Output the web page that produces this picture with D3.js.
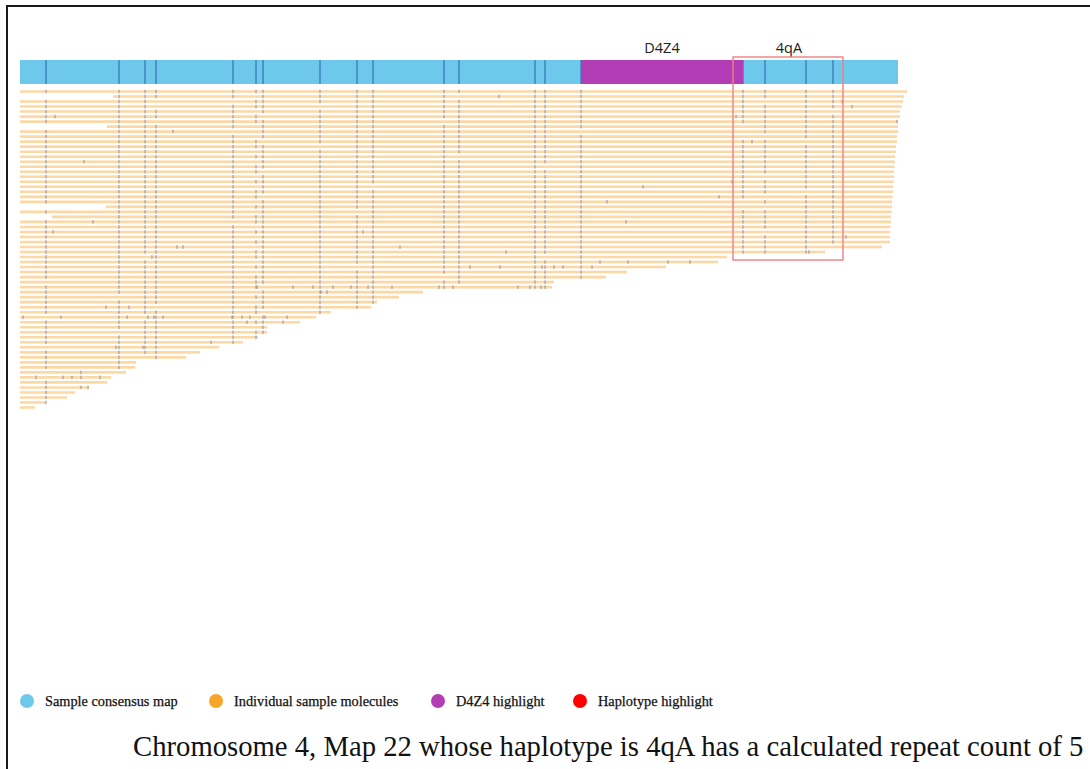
<!DOCTYPE html>
<html>
<head>
<meta charset="utf-8">
<script src="https://cdn.jsdelivr.net/npm/d3@7/dist/d3.min.js"></script>
<style>
  html, body { margin: 0; padding: 0; background: #ffffff; }
  svg { display: block; }
</style>
</head>
<body>
<svg id="chart" width="1090" height="769"></svg>
<script>
// ---- Consensus map (positions in kb) ----
const mapLengthKb = 175.6;
const consensusSites = [5.2, 19.8, 25.0, 27.2, 42.6, 47.2, 48.6, 60.0, 67.4, 70.6,
                        84.8, 87.8, 103.0, 105.0, 112.2, 144.6, 149.0, 157.2, 162.6];
const d4z4Region = [112.2, 144.6];
const haplotypeRegion = [142.6, 164.6];
const regionLabels = ["D4Z4", "4qA"];
const regionLabelPos = [128.4, 153.8];

// ---- Individual molecules (one per row) ----
const moleculeStart = [
  0, 18.6, 0, 0, 0, 0, 0, 17.4, 0, 0,
  0, 0, 0, 0, 0, 0, 0, 0, 0, 0,
  0, 0, 0, 17.2, 0, 6.4, 0, 0, 0, 0,
  0, 0, 0, 0, 0, 0, 0, 0, 0, 0,
  0, 0, 0, 0, 0, 0, 0, 0, 0, 0,
  0, 0, 0, 0, 0, 0, 0, 0, 0, 0,
  0, 0, 0, 0
];
const moleculeEnd = [
  177.4, 176.8, 176.6, 176.4, 176.0, 176.0, 175.6, 175.6, 175.6, 175.4,
  175.4, 175.2, 175.2, 175.0, 175.0, 174.9, 174.8, 174.8, 174.7, 174.6,
  174.6, 174.5, 174.4, 174.4, 174.3, 174.2, 174.2, 174.1, 174.0, 174.0,
  174.0, 172.4, 161.0, 141.4, 139.6, 129.2, 121.4, 117.2, 106.8, 106.4,
  80.6, 75.8, 71.4, 70.2, 62.2, 59.2, 56.0, 49.4, 49.4, 47.6,
  44.6, 39.8, 36.0, 33.2, 23.2, 23.0, 21.2, 18.2, 17.4, 13.8,
  11.0, 9.4, 5.2, 3.0
];
// which consensus sites were labelled on each molecule
const moleculeSiteMask = [
  "1111111111111111111", "1111101111101111111", "1110011111111111011", "1110111011111111111",
  "1111101111111111110", "1111110111111111111", "1110111111011111111", "1111101111111110111",
  "1111001111111100111", "1111101111111110011", "1111110111111111101", "1111111011111111111",
  "1111101111111111111", "1111111111101111111", "1111101111111111111", "1111111111111011111",
  "1111110111111111111", "1111101111111111011", "1111111111111111111", "1111101110111111111",
  "1111111111111111101", "1111110111111111011", "1111101111111110111", "1111111111111110011",
  "1111101101111111111", "1111111111111111111", "1111011111111111111", "1111101111111111111",
  "1111111111111111011", "1111101111111111111", "1111111111111111111", "1111101111111111110",
  "1111111111111111111", "1101111111111011111", "1111101111111111111", "1111111101111111111",
  "1111101111111111111", "1111111111011111111", "0111111111111111111", "1111110111101111111",
  "1111101111111111111", "1011111111111111111", "1111101111111111111", "1110111111111111111",
  "1111110111111111111", "0101101111111111111", "1111111111111111111", "1111101111111111111",
  "1011111111111111111", "1111111111111111111", "1111110111111111111", "0111111111111111111",
  "1111111111111111111", "1101111111111111111", "1111111111111111111", "1111111111111111111",
  "0011111111111111111", "0011111111111111111", "1111111111111111111", "1111111111111111111",
  "1111111111111111111", "1111111111111111111", "1111111111111111111", "1111111111111111111"
];
// labels on molecules that do not align to the consensus
const moleculeExtraLabels = [
  [], [95.8], [164.4], [166.4], [], [7.0, 143.2], [175.4], [], [30.6], [],
  [146.4], [], [], [], [12.8], [], [], [], [142.4], [124.6],
  [], [139.8], [117.4], [], [], [], [14.6, 121.2], [], [6.6, 68.6], [165.2],
  [], [31.4, 32.6, 76.0], [97.2, 157.8], [26.4], [116.0, 121.6, 129.6, 134.0], [90.0, 96.0, 104.4, 106.8, 108.6, 114.4], [], [], [], [47.4, 54.6, 58.6, 62.6, 66.2, 69.6, 74.4, 83.8, 86.6, 99.6, 102.0, 104.2],
  [60.2, 61.4], [], [], [17.2, 21.8], [], [0.6, 8.2, 21.4, 25.6, 26.8, 28.6, 42.4, 44.4, 46.0, 49.0, 53.4], [45.4, 52.6], [], [], [],
  [38.2], [19.2, 24.6], [], [], [], [], [12.2], [3.2, 8.6, 10.4, 12.2, 16.0], [], [12.2, 13.6],
  [], [], [], []
];

// ---- Legend and caption ----
const legendLabels = ["Sample consensus map", "Individual sample molecules", "D4Z4 highlight", "Haplotype highlight"];
const legendColors = ["#6dc8ec", "#f7a62a", "#b33db5", "#ff0000"];
const captionText = "Chromosome 4, Map 22 whose haplotype is 4qA has a calculated repeat count of 5";

// ---- Drawing ----
const svg = d3.select("#chart");

// outer frame
svg.append("rect")
  .attr("x", 7).attr("y", 6).attr("width", 1200).attr("height", 900)
  .attr("fill", "none").attr("stroke", "#1a1a1a").attr("stroke-width", 2);

const x = d3.scaleLinear().domain([0, mapLengthKb]).range([20, 898]);
const rowIds = d3.range(moleculeEnd.length);
const y = d3.scalePoint().domain(rowIds).range([91.5, 407.5]);

const barTop = 60, barHeight = 24;

// consensus bar
svg.append("rect")
  .attr("x", x(0)).attr("y", barTop)
  .attr("width", x(mapLengthKb) - x(0)).attr("height", barHeight)
  .attr("fill", "#6dc8ec");

svg.append("g").selectAll("line")
  .data(consensusSites)
  .join("line")
  .attr("x1", d => x(d)).attr("x2", d => x(d))
  .attr("y1", barTop).attr("y2", barTop + barHeight)
  .attr("stroke", "#3b7fbd").attr("stroke-width", 1.4);

// D4Z4 highlight
svg.append("rect")
  .attr("x", x(d4z4Region[0])).attr("y", barTop)
  .attr("width", x(d4z4Region[1]) - x(d4z4Region[0])).attr("height", barHeight)
  .attr("fill", "#b33db5");

svg.append("g").selectAll("text")
  .data(regionLabels)
  .join("text")
  .attr("x", (d, i) => x(regionLabelPos[i]))
  .attr("y", 53)
  .attr("text-anchor", "middle")
  .attr("font-family", "'Open Sans', 'Noto Sans', sans-serif")
  .attr("font-size", 14.5)
  .attr("fill", "#222")
  .text(d => d);

// molecules
const molecules = rowIds.map(i => ({
  row: i,
  start: moleculeStart[i],
  end: moleculeEnd[i],
  labels: consensusSites
    .filter((s, k) => moleculeSiteMask[i][k] === "1" && s >= moleculeStart[i] && s <= moleculeEnd[i])
    .concat(moleculeExtraLabels[i])
}));

const molG = svg.append("g");
molG.selectAll("line.mol")
  .data(molecules)
  .join("line")
  .attr("class", "mol")
  .attr("x1", d => x(d.start)).attr("x2", d => x(d.end))
  .attr("y1", d => y(d.row)).attr("y2", d => y(d.row))
  .attr("stroke", "#fcd8a4").attr("stroke-width", 2.6);

molG.selectAll("g.lab")
  .data(molecules)
  .join("g")
  .attr("class", "lab")
  .selectAll("rect")
  .data(d => d.labels.map(v => ({ v, row: d.row })))
  .join("rect")
  .attr("x", d => x(d.v) - 0.6)
  .attr("y", d => y(d.row) - 1.8)
  .attr("width", 1.2).attr("height", 3.6)
  .attr("fill", "#8591a6").attr("opacity", 0.8);

// haplotype box
svg.append("rect")
  .attr("x", x(haplotypeRegion[0])).attr("y", 57)
  .attr("width", x(haplotypeRegion[1]) - x(haplotypeRegion[0])).attr("height", 203)
  .attr("fill", "none").attr("stroke", "#ef8080").attr("stroke-width", 1.4);

// legend
const legendX = [27, 216, 438, 580];
const legend = svg.append("g").selectAll("g")
  .data(legendLabels)
  .join("g")
  .attr("transform", (d, i) => `translate(${legendX[i]},701)`);
legend.append("circle").attr("r", 7).attr("fill", (d, i) => legendColors[i]);
legend.append("text")
  .attr("x", 18).attr("y", 4.5)
  .attr("font-family", "'Liberation Serif', 'Times New Roman', serif")
  .attr("font-size", 14.3)
  .attr("fill", "#111")
  .attr("stroke", "#111").attr("stroke-width", 0.25)
  .text(d => d);

// caption
svg.append("text")
  .attr("x", 133).attr("y", 756)
  .attr("font-family", "'Liberation Serif', 'Times New Roman', serif")
  .attr("font-size", 28.7)
  .attr("fill", "#111")
  .text(captionText);
</script>
</body>
</html>
